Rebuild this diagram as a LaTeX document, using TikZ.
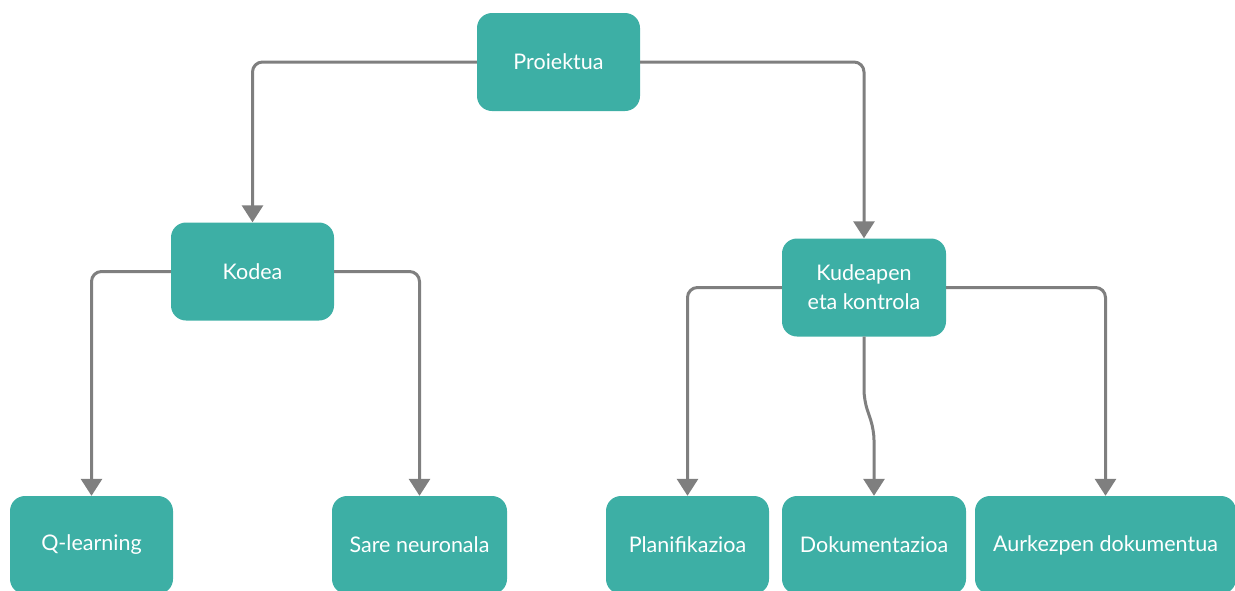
\documentclass[tikz,border=0pt]{standalone}
\usepackage{fontspec}
\setmainfont{Lato}
\usetikzlibrary{arrows.meta}
\definecolor{teal}{HTML}{3DAFA5}
\definecolor{linegray}{HTML}{7F7F7F}
\tikzset{
  box/.style={fill=teal, rounded corners=15pt, text=white, align=center,
    inner sep=0pt, minimum height=98pt, font=\fontsize{21.5}{29}\selectfont},
  conn/.style={draw=linegray, line width=3pt, rounded corners=10pt,
    -{Triangle[width=21pt,length=17pt]}},
}
\begin{document}
\begin{tikzpicture}[x=1pt,y=-1pt]
\useasboundingbox (0,0) rectangle (1235,590);
\clip (0,0) rectangle (1235,590);
% top level
\node[box, minimum width=163pt] (p) at (558.5,62) {Proiektua};
% second level
\node[box, minimum width=163pt] (k) at (252.5,271.5) {Kodea};
\node[box, minimum width=164pt] (ku) at (864,287.5) {Kudeapen\\eta kontrola};
% leaves
\node[box, minimum width=163pt] (q) at (91.5,545) {Q-learning};
\node[box, minimum width=175pt] (s) at (419.5,545) {Sare neuronala};
\node[box, minimum width=163pt] (pl) at (687.5,545) {Planifikazioa};
\node[box, minimum width=184pt] (d) at (874,545) {Dokumentazioa};
\node[box, minimum width=261pt] (a) at (1105.5,545) {Aurkezpen dokumentua};
% connectors
\draw[conn] (p.west) -| (k.north);
\draw[conn] (p.east) -| (ku.north);
\draw[conn] (k.west) -| (q.north);
\draw[conn] (k.east) -| (s.north);
\draw[conn] (ku.west) -| (pl.north);
\draw[conn] (ku.east) -| (a.north);
\coordinate (j1) at (864,400);
\coordinate (j2) at (874,430);
\draw[conn] (ku.south) -- (j1) -- (j2) -- (d.north);
\end{tikzpicture}
\end{document}
